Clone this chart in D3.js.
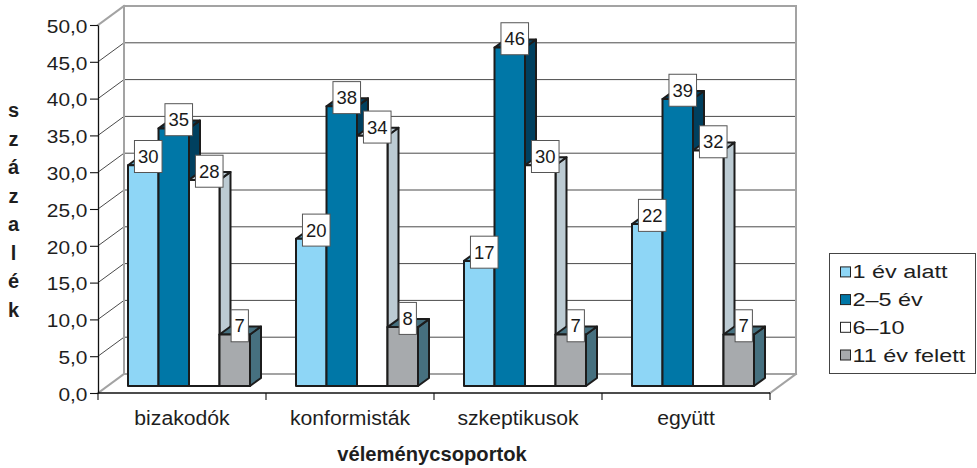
<!DOCTYPE html>
<html>
<head>
<meta charset="utf-8">
<script src="https://cdn.jsdelivr.net/npm/d3@7/dist/d3.min.js"></script>
<style>
  html, body { margin: 0; padding: 0; background: #fff; }
  svg { display: block; font-family: "Liberation Sans", Arial, sans-serif; }
</style>
</head>
<body>
<svg id="chart" width="977" height="468"></svg>
<script>
// Survey groups and the share (%) of respondents per length-of-service band
const categories = ["bizakodók", "konformisták", "szkeptikusok", "együtt"];
const seriesNames = ["1 év alatt", "2–5 év", "6–10", "11 év felett"];
const under1Year = [30, 20, 17, 22];
const years2to5 = [35, 38, 46, 39];
const years6to10 = [28, 34, 30, 32];
const over11Years = [7, 8, 7, 7];
const yTicks = [0, 5, 10, 15, 20, 25, 30, 35, 40, 45, 50];
const yTitle = "százalék";
const xTitle = "véleménycsoportok";

const seriesValues = [under1Year, years2to5, years6to10, over11Years];

// face colours: front, top, side
const faceColors = [
  { front: "#8ED6F6", top: "#5EA3C0", side: "#5EA3C0" },
  { front: "#0077A7", top: "#00405F", side: "#00405F" },
  { front: "#FFFFFF", top: "#BCCBD3", side: "#BCCBD3" },
  { front: "#A7AAAD", top: "#46707F", side: "#46707F" }
];

const svg = d3.select("#chart");

// projection of the box: front plane and depth shift towards the back wall
const depth = { dx: 26, dy: -19 };
const barShift = { dx: 9.5, dy: -7 };   // bars stand a little behind the front edge
const barDepth = { dx: 11, dy: -8 };

const y = d3.scaleLinear().domain([0, 50]).range([393, 25]);
const x = d3.scaleBand().domain(categories).range([98, 770]).padding(0);
const xs = d3.scaleBand().domain(d3.range(seriesNames.length)).range([20.5, 142.5]).padding(0);

const gridColor = "#4a4a4a";
const wallColor = "#a3a3a3";

// ---- walls and floor ----
const walls = svg.append("g");
const x0 = x.range()[0], x1 = x.range()[1];
// back wall gridlines
walls.selectAll("line.grid")
  .data(yTicks.filter(t => t > 0 && t < 50))
  .join("line")
  .attr("x1", x0 + depth.dx).attr("x2", x1 + depth.dx)
  .attr("y1", d => y(d) + depth.dy).attr("y2", d => y(d) + depth.dy)
  .attr("stroke", gridColor).attr("stroke-width", 1);
// side wall diagonals
walls.selectAll("line.diag")
  .data(yTicks.filter(t => t > 0 && t < 50))
  .join("line")
  .attr("x1", x0).attr("x2", x0 + depth.dx)
  .attr("y1", d => y(d)).attr("y2", d => y(d) + depth.dy)
  .attr("stroke", gridColor).attr("stroke-width", 1);
// outline of the box
const topB = y(50) + depth.dy, botB = y(0) + depth.dy;
const outline = [
  [[x0 + depth.dx, topB], [x1 + depth.dx, topB]],
  [[x1 + depth.dx, topB], [x1 + depth.dx, botB]],
  [[x0 + depth.dx, topB], [x0 + depth.dx, botB]],
  [[x0 + depth.dx, botB], [x1 + depth.dx, botB]],
  [[x0, y(50)], [x0 + depth.dx, topB]],
  [[x0, y(0)], [x0 + depth.dx, botB]],
  [[x1, y(0)], [x1 + depth.dx, botB]]
];
walls.selectAll("line.edge")
  .data(outline)
  .join("line")
  .attr("x1", d => d[0][0]).attr("y1", d => d[0][1])
  .attr("x2", d => d[1][0]).attr("y2", d => d[1][1])
  .attr("stroke", wallColor).attr("stroke-width", 2)
  .attr("stroke-linecap", "square");

// ---- bars ----
const bars = svg.append("g");
const barData = [];
categories.forEach((c, ci) => {
  seriesValues.forEach((vals, si) => {
    barData.push({ c, si, v: vals[ci] });
  });
});

const geom = d => {
  const left = x(d.c) + xs(d.si) + barShift.dx;
  const right = left + xs.bandwidth();
  const top = y(d.v) + barShift.dy;
  const bottom = y(0) + barShift.dy;
  return { left, right, top, bottom };
};

barData.forEach(d => {
  const g = geom(d);
  const col = faceColors[d.si];
  const bg = bars.append("g")
    .attr("stroke", "#1c1c1c").attr("stroke-width", 2).attr("stroke-linejoin", "round");
  // side face
  bg.append("path")
    .attr("d", `M${g.right},${g.bottom} L${g.right + barDepth.dx},${g.bottom + barDepth.dy} L${g.right + barDepth.dx},${g.top + barDepth.dy} L${g.right},${g.top} Z`)
    .attr("fill", col.side);
  // top face
  bg.append("path")
    .attr("d", `M${g.left},${g.top} L${g.left + barDepth.dx},${g.top + barDepth.dy} L${g.right + barDepth.dx},${g.top + barDepth.dy} L${g.right},${g.top} Z`)
    .attr("fill", col.top);
  // front face
  bg.append("rect")
    .attr("x", g.left).attr("y", g.top)
    .attr("width", g.right - g.left).attr("height", g.bottom - g.top)
    .attr("fill", col.front);
});

// ---- axes ----
const fmt = v => d3.format(".1f")(v).replace(".", ",");
const yAxis = svg.append("g")
  .attr("transform", `translate(${x0},0)`)
  .call(d3.axisLeft(y).tickValues(yTicks).tickSize(8).tickSizeOuter(0).tickFormat(fmt));
yAxis.select(".domain").attr("stroke", "#111").attr("stroke-width", 1.3);
yAxis.selectAll(".tick line").attr("stroke", "#111").attr("stroke-width", 1.1);
yAxis.selectAll(".tick text")
  .attr("x", 0).attr("dy", null).attr("y", 0)
  .attr("transform", "translate(-10.5,7.3) scale(1.1,1)")
  .attr("fill", "#1e1e1e").attr("font-size", 19)
  .attr("font-family", "'Liberation Sans', Arial, sans-serif");

// floor front edge with category boundary ticks
const xAxis = svg.append("g");
xAxis.append("line")
  .attr("x1", x0).attr("x2", x1).attr("y1", y(0)).attr("y2", y(0))
  .attr("stroke", "#111").attr("stroke-width", 1.3);
const bounds = categories.map(c => x(c)).concat([x1]);
xAxis.selectAll("line.tick")
  .data(bounds)
  .join("line")
  .attr("x1", d => d).attr("x2", d => d)
  .attr("y1", y(0)).attr("y2", y(0) + 7)
  .attr("stroke", "#111").attr("stroke-width", 1.1);
xAxis.selectAll("text.cat")
  .data(categories)
  .join("text")
  .attr("transform", d => `translate(${x(d) + x.bandwidth() / 2},425) scale(1.07,1)`)
  .attr("text-anchor", "middle")
  .attr("font-size", 19.8).attr("fill", "#1e1e1e")
  .text(d => d);

// axis titles
svg.append("text")
  .attr("transform", "translate(432,461) scale(1.02,1)")
  .attr("text-anchor", "middle")
  .attr("font-size", 19.8).attr("font-weight", "bold").attr("fill", "#1e1e1e")
  .text(xTitle);

svg.append("g").selectAll("text")
  .data(Array.from(yTitle))
  .join("text")
  .attr("x", 13.5).attr("y", (d, i) => 117 + i * 28.5)
  .attr("text-anchor", "middle")
  .attr("font-size", 20).attr("font-weight", "bold").attr("fill", "#1e1e1e")
  .text(d => d);

// ---- value labels ----
const labels = svg.append("g");
barData.forEach(d => {
  const g = geom(d);
  const cx = (g.left + g.right) / 2 + 5;
  const cy = g.top - 8.7;
  const lg = labels.append("g");
  const rect = lg.append("rect").attr("fill", "#fff").attr("stroke", "#555").attr("stroke-width", 1);
  const t = lg.append("text")
    .attr("x", cx).attr("y", cy + 6.7)
    .attr("text-anchor", "middle")
    .attr("font-size", 18.5).attr("fill", "#1a1a1a")
    .text(d3.format("d")(d.v));
  const w = t.node().getComputedTextLength() + 7;
  rect.attr("x", cx - w / 2).attr("y", cy - 16).attr("width", w).attr("height", 32);
});

// ---- legend ----
const legend = svg.append("g");
legend.append("rect")
  .attr("x", 829.5).attr("y", 253.5).attr("width", 146).attr("height", 120)
  .attr("fill", "#fff").attr("stroke", "#444").attr("stroke-width", 1);
const rowY = i => 278.4 + i * 27.7;
legend.selectAll("rect.sw")
  .data(seriesNames)
  .join("rect")
  .attr("x", 840.5).attr("y", (d, i) => rowY(i) - 11.5)
  .attr("width", 10).attr("height", 10)
  .attr("fill", (d, i) => faceColors[i].front)
  .attr("stroke", "#222").attr("stroke-width", 1);
legend.selectAll("text.item")
  .data(seriesNames)
  .join("text")
  .attr("transform", (d, i) => `translate(852.5,${rowY(i)}) scale(1.26,1)`)
  .attr("font-size", 18.6).attr("fill", "#1e1e1e")
  .text(d => d);
</script>
</body>
</html>
